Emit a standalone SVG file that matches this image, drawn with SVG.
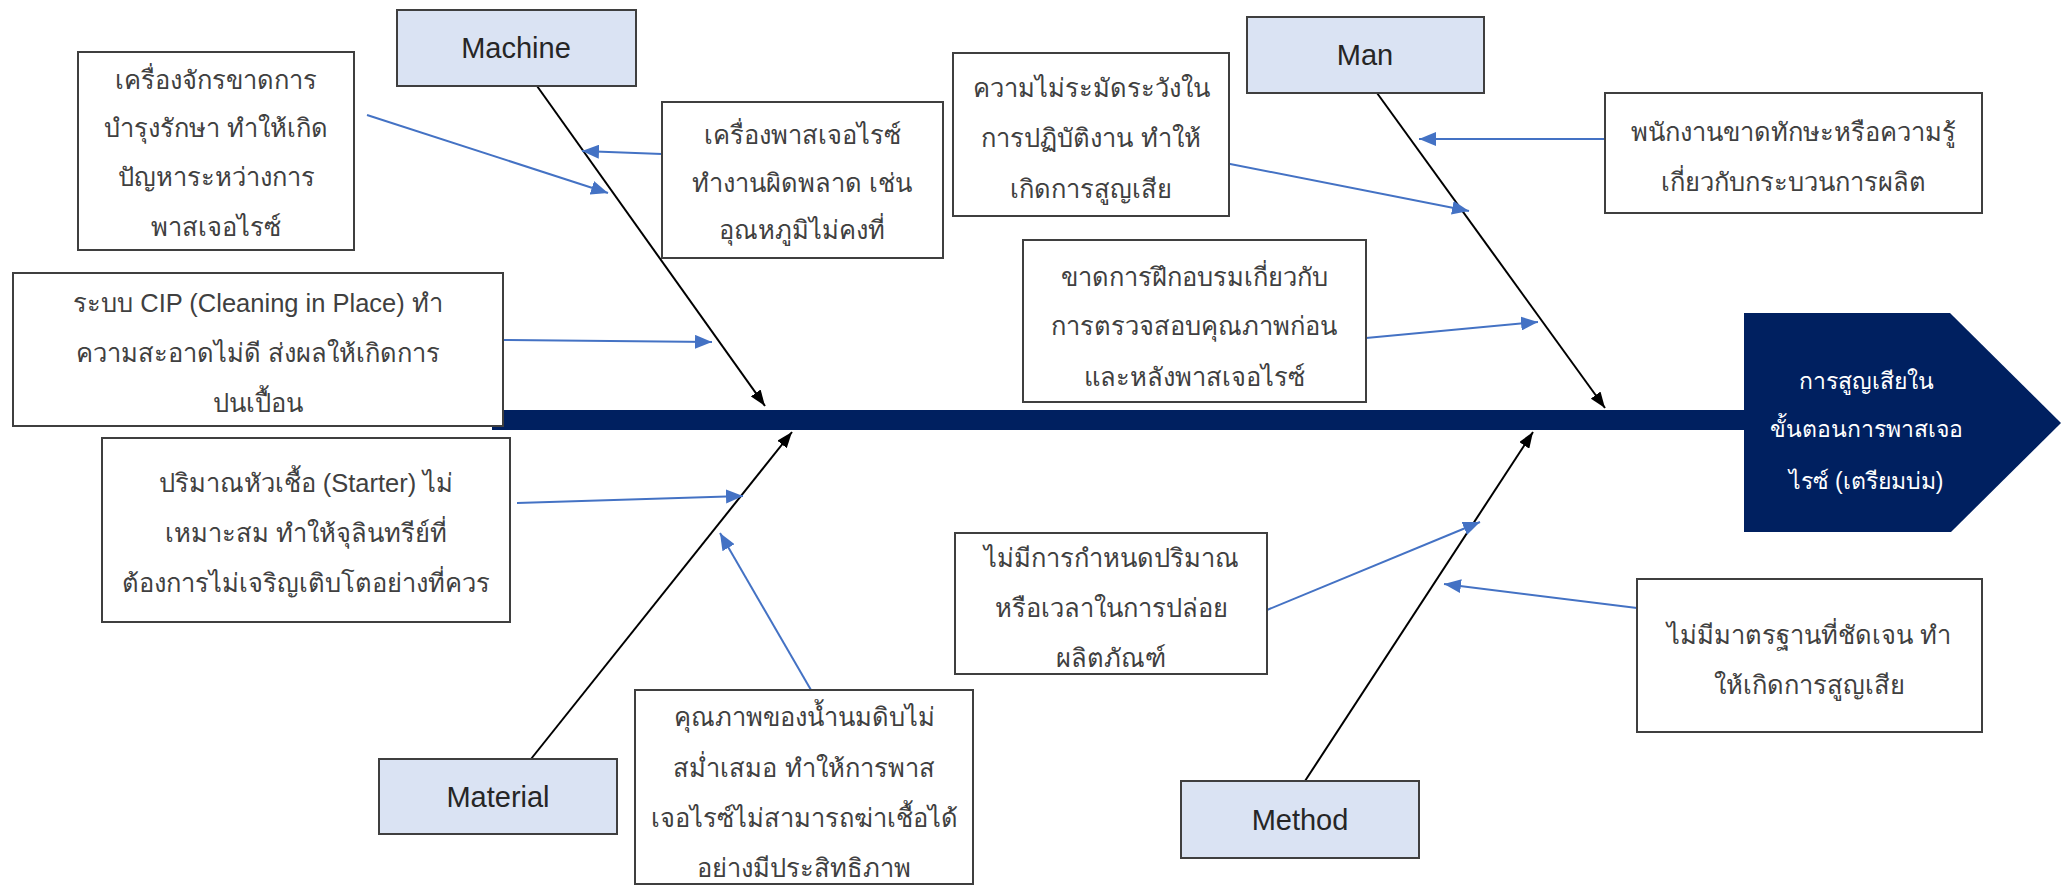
<svg xmlns="http://www.w3.org/2000/svg" width="2069" height="886" viewBox="0 0 2069 886">
<defs>
<style>
.cat{fill:#DAE3F3;stroke:#3F3F3F;stroke-width:2}
.box{fill:#FFFFFF;stroke:#3F3F3F;stroke-width:2}
.lbl{font-family:"Liberation Sans","Noto Sans",sans-serif;font-size:29px;fill:#262626;text-anchor:middle}
.txt{font-family:"Liberation Sans","Noto Sans",sans-serif;font-size:25.5px;fill:#404040;text-anchor:middle}
.htxt{font-family:"Liberation Sans","Noto Sans",sans-serif;font-size:23px;fill:#FFFFFF;text-anchor:middle}
.bone{stroke:#000000;stroke-width:2;fill:none}
.blue{stroke:#4472C4;stroke-width:2;fill:none}
</style>
<marker id="ab" markerUnits="userSpaceOnUse" markerWidth="16" markerHeight="12" refX="16" refY="6" orient="auto"><path d="M0,0 L16,6 L0,12 z" fill="#000000"/></marker>
<marker id="au" markerUnits="userSpaceOnUse" markerWidth="17" markerHeight="14" refX="17" refY="7" orient="auto"><path d="M0,0 L17,7 L0,14 z" fill="#4472C4"/></marker>
</defs>
<rect width="2069" height="886" fill="#FFFFFF"/>
<g id="spine"><rect x="492" y="410" width="1254" height="20" fill="#002060"/></g>
<g id="connectors">
<line class="bone" x1="537" y1="86" x2="765" y2="406" marker-end="url(#ab)"/>
<line class="bone" x1="1377" y1="93" x2="1605" y2="408" marker-end="url(#ab)"/>
<line class="bone" x1="531" y1="759" x2="792" y2="432" marker-end="url(#ab)"/>
<line class="bone" x1="1305" y1="781" x2="1533" y2="432" marker-end="url(#ab)"/>
<line class="blue" x1="367" y1="115" x2="608" y2="193" marker-end="url(#au)"/>
<line class="blue" x1="662" y1="154" x2="582" y2="151" marker-end="url(#au)"/>
<line class="blue" x1="503" y1="340" x2="712" y2="342" marker-end="url(#au)"/>
<line class="blue" x1="517" y1="503" x2="743" y2="496" marker-end="url(#au)"/>
<line class="blue" x1="811" y1="690" x2="720" y2="533" marker-end="url(#au)"/>
<line class="blue" x1="1220" y1="162" x2="1469" y2="211" marker-end="url(#au)"/>
<line class="blue" x1="1605" y1="139" x2="1419" y2="139" marker-end="url(#au)"/>
<line class="blue" x1="1366" y1="338" x2="1538" y2="322" marker-end="url(#au)"/>
<line class="blue" x1="1267" y1="610" x2="1480" y2="522" marker-end="url(#au)"/>
<line class="blue" x1="1637" y1="608" x2="1444" y2="584" marker-end="url(#au)"/>
</g>
<g id="machine"><rect class="cat" x="397" y="10" width="239" height="76"/><text class="lbl" x="516" y="58">Machine</text></g>
<g id="man"><rect class="cat" x="1247" y="17" width="237" height="76"/><text class="lbl" x="1365" y="65">Man</text></g>
<g id="material"><rect class="cat" x="379" y="759" width="238" height="75"/><text class="lbl" x="498" y="807">Material</text></g>
<g id="method"><rect class="cat" x="1181" y="781" width="238" height="77"/><text class="lbl" x="1300" y="830">Method</text></g>
<g id="cause-a"><rect class="box" x="78" y="52" width="276" height="198"/>
<text class="txt" x="216" y="89">เครื่องจักรขาดการ</text>
<text class="txt" x="216" y="137">บำรุงรักษา ทำให้เกิด</text>
<text class="txt" x="216" y="186">ปัญหาระหว่างการ</text>
<text class="txt" x="216" y="236">พาสเจอไรซ์</text></g>
<g id="cause-b"><rect class="box" x="662" y="102" width="281" height="156"/>
<text class="txt" x="802" y="144">เครื่องพาสเจอไรซ์</text>
<text class="txt" x="802" y="192">ทำงานผิดพลาด เช่น</text>
<text class="txt" x="802" y="239">อุณหภูมิไม่คงที่</text></g>
<g id="cause-c"><rect class="box" x="953" y="53" width="276" height="163"/>
<text class="txt" x="1091" y="97">ความไม่ระมัดระวังใน</text>
<text class="txt" x="1091" y="147">การปฏิบัติงาน ทำให้</text>
<text class="txt" x="1091" y="198">เกิดการสูญเสีย</text></g>
<g id="cause-d"><rect class="box" x="1605" y="93" width="377" height="120"/>
<text class="txt" x="1793" y="141">พนักงานขาดทักษะหรือความรู้</text>
<text class="txt" x="1793" y="191">เกี่ยวกับกระบวนการผลิต</text></g>
<g id="cause-e"><rect class="box" x="1023" y="240" width="343" height="162"/>
<text class="txt" x="1194" y="286">ขาดการฝึกอบรมเกี่ยวกับ</text>
<text class="txt" x="1194" y="335">การตรวจสอบคุณภาพก่อน</text>
<text class="txt" x="1194" y="386">และหลังพาสเจอไรซ์</text></g>
<g id="cause-f"><rect class="box" x="13" y="273" width="490" height="153"/>
<text class="txt" x="258" y="312">ระบบ CIP (Cleaning in Place) ทำ</text>
<text class="txt" x="258" y="362">ความสะอาดไม่ดี ส่งผลให้เกิดการ</text>
<text class="txt" x="258" y="412">ปนเปื้อน</text></g>
<g id="cause-g"><rect class="box" x="102" y="438" width="408" height="184"/>
<text class="txt" x="306" y="492">ปริมาณหัวเชื้อ (Starter) ไม่</text>
<text class="txt" x="306" y="542">เหมาะสม ทำให้จุลินทรีย์ที่</text>
<text class="txt" x="306" y="592">ต้องการไม่เจริญเติบโตอย่างที่ควร</text></g>
<g id="cause-h"><rect class="box" x="635" y="690" width="338" height="194"/>
<text class="txt" x="804" y="726">คุณภาพของน้ำนมดิบไม่</text>
<text class="txt" x="804" y="777">สม่ำเสมอ ทำให้การพาส</text>
<text class="txt" x="804" y="827">เจอไรซ์ไม่สามารถฆ่าเชื้อได้</text>
<text class="txt" x="804" y="877">อย่างมีประสิทธิภาพ</text></g>
<g id="cause-i"><rect class="box" x="955" y="533" width="312" height="141"/>
<text class="txt" x="1111" y="567">ไม่มีการกำหนดปริมาณ</text>
<text class="txt" x="1111" y="617">หรือเวลาในการปล่อย</text>
<text class="txt" x="1111" y="667">ผลิตภัณฑ์</text></g>
<g id="cause-j"><rect class="box" x="1637" y="579" width="345" height="153"/>
<text class="txt" x="1809" y="644">ไม่มีมาตรฐานที่ชัดเจน ทำ</text>
<text class="txt" x="1809" y="694">ให้เกิดการสูญเสีย</text></g>
<g id="effect"><polygon points="1744,313 1950,313 2061,423 1951,532 1744,532" fill="#002060"/>
<text class="htxt" x="1866" y="389">การสูญเสียใน</text>
<text class="htxt" x="1866" y="437">ขั้นตอนการพาสเจอ</text>
<text class="htxt" x="1866" y="489">ไรซ์ (เตรียมบ่ม)</text></g>
</svg>
